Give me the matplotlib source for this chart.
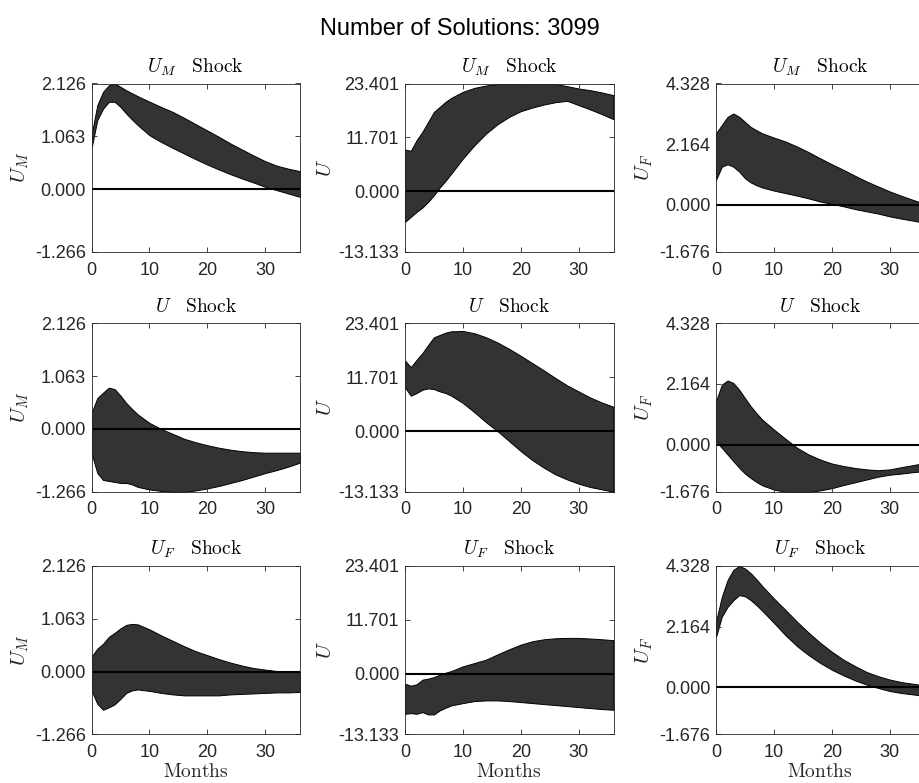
import numpy as np
import matplotlib
matplotlib.use('Agg')
import matplotlib.pyplot as plt

plt.rcParams['font.family'] = ['Liberation Sans', 'DejaVu Sans']
plt.rcParams['mathtext.fontset'] = 'cm'

# months on the horizontal axis
months = [0, 1, 2, 3, 4, 5, 6, 7, 8, 10, 12, 14, 16, 18, 20, 22, 24, 26, 28, 30, 32, 34, 36]

# row 1: U_M shock
um_um_hi = [1.09, 1.69, 1.96, 2.09, 2.126, 2.06, 1.99, 1.93, 1.87, 1.76, 1.655, 1.555, 1.434, 1.306, 1.179, 1.051, 0.917, 0.796, 0.675, 0.561, 0.47, 0.41, 0.36]
um_um_lo = [0.82, 1.39, 1.62, 1.757, 1.757, 1.655, 1.52, 1.40, 1.286, 1.085, 0.95, 0.83, 0.715, 0.601, 0.494, 0.393, 0.299, 0.212, 0.131, 0.044, -0.023, -0.09, -0.158]
um_u_hi = [9.08, 8.79, 11.1, 12.91, 15.08, 17.25, 18.34, 19.42, 20.29, 21.6, 22.46, 22.97, 23.26, 23.4, 23.4, 23.4, 23.4, 23.3, 22.82, 22.31, 21.95, 21.45, 20.87]
um_u_lo = [-6.62, -5.53, -4.45, -3.51, -2.28, -0.83, 0.83, 2.28, 3.87, 7.13, 10.02, 12.55, 14.58, 16.17, 17.4, 18.19, 18.84, 19.35, 19.64, 18.7, 17.76, 16.75, 15.66]
um_uf_hi = [2.55, 2.85, 3.14, 3.26, 3.14, 2.96, 2.78, 2.66, 2.55, 2.4, 2.26, 2.08, 1.88, 1.66, 1.45, 1.25, 1.04, 0.835, 0.657, 0.48, 0.326, 0.18, 0.04]
um_uf_lo = [0.89, 1.36, 1.45, 1.36, 1.19, 0.95, 0.8, 0.7, 0.62, 0.51, 0.42, 0.33, 0.23, 0.12, 0.04, -0.05, -0.15, -0.23, -0.31, -0.41, -0.49, -0.56, -0.64]

# row 2: U shock
u_um_hi = [0.32, 0.62, 0.73, 0.83, 0.8, 0.67, 0.52, 0.40, 0.29, 0.12, 0.0, -0.10, -0.20, -0.27, -0.33, -0.38, -0.42, -0.45, -0.47, -0.48, -0.48, -0.48, -0.48]
u_um_lo = [-0.49, -0.89, -1.03, -1.05, -1.07, -1.09, -1.09, -1.12, -1.17, -1.22, -1.25, -1.27, -1.27, -1.24, -1.2, -1.15, -1.09, -1.03, -0.96, -0.89, -0.83, -0.76, -0.68]
u_u_hi = [15.33, 13.89, 15.48, 16.92, 18.72, 20.37, 20.88, 21.38, 21.67, 21.74, 21.24, 20.37, 19.22, 17.85, 16.34, 14.75, 13.17, 11.51, 9.93, 8.6, 7.3, 6.2, 5.3]
u_u_lo = [9.49, 7.69, 8.27, 8.99, 9.28, 9.13, 8.63, 8.27, 7.69, 6.11, 4.09, 1.93, -0.02, -2.18, -4.34, -6.29, -7.94, -9.39, -10.47, -11.4, -12.12, -12.63, -13.13]
u_uf_hi = [1.55, 2.14, 2.29, 2.2, 1.96, 1.66, 1.37, 1.12, 0.89, 0.54, 0.21, -0.11, -0.35, -0.53, -0.67, -0.76, -0.83, -0.88, -0.91, -0.88, -0.80, -0.73, -0.65]
u_uf_lo = [0.12, -0.11, -0.35, -0.59, -0.82, -1.03, -1.19, -1.33, -1.45, -1.6, -1.68, -1.7, -1.69, -1.63, -1.55, -1.44, -1.34, -1.24, -1.14, -1.07, -1.03, -0.98, -0.94]

# row 3: U_F shock
uf_um_hi = [0.30, 0.46, 0.56, 0.70, 0.78, 0.87, 0.94, 0.96, 0.95, 0.85, 0.73, 0.62, 0.51, 0.41, 0.33, 0.25, 0.18, 0.12, 0.07, 0.04, 0.01, 0.0, -0.01]
uf_um_lo = [-0.38, -0.65, -0.77, -0.72, -0.66, -0.55, -0.43, -0.38, -0.36, -0.39, -0.43, -0.46, -0.48, -0.48, -0.48, -0.48, -0.46, -0.45, -0.44, -0.43, -0.42, -0.42, -0.41]
uf_u_hi = [-2.13, -2.56, -2.27, -1.26, -1.04, -0.68, -0.17, 0.26, 0.62, 1.64, 2.36, 3.09, 4.25, 5.34, 6.35, 7.08, 7.51, 7.73, 7.8, 7.8, 7.66, 7.51, 7.3]
uf_u_lo = [-8.66, -8.52, -8.66, -8.3, -8.8, -8.8, -7.93, -7.35, -6.84, -6.34, -5.9, -5.76, -5.76, -5.9, -6.12, -6.34, -6.56, -6.77, -6.99, -7.21, -7.43, -7.64, -7.79]
uf_uf_hi = [2.34, 3.23, 3.83, 4.19, 4.33, 4.24, 4.07, 3.85, 3.61, 3.17, 2.76, 2.34, 1.95, 1.59, 1.27, 0.99, 0.76, 0.55, 0.4, 0.28, 0.19, 0.13, 0.07]
uf_uf_lo = [1.80, 2.52, 2.87, 3.11, 3.29, 3.25, 3.11, 2.93, 2.73, 2.3, 1.86, 1.47, 1.15, 0.87, 0.63, 0.43, 0.25, 0.1, -0.02, -0.13, -0.2, -0.25, -0.3]

shock_titles = [r'$U_M\ \ \ \mathrm{Shock}$', r'$U\ \ \ \mathrm{Shock}$', r'$U_F\ \ \ \mathrm{Shock}$']
var_labels = [r'$U_M$', r'$U$', r'$U_F$']
y_ticks = [[-1.266, 0.0, 1.063, 2.126],
           [-13.133, 0.0, 11.701, 23.401],
           [-1.676, 0.0, 2.164, 4.328]]
x_ticks = [0, 10, 20, 30]

bands = [[(um_um_lo, um_um_hi), (um_u_lo, um_u_hi), (um_uf_lo, um_uf_hi)],
         [(u_um_lo, u_um_hi), (u_u_lo, u_u_hi), (u_uf_lo, u_uf_hi)],
         [(uf_um_lo, uf_um_hi), (uf_u_lo, uf_u_hi), (uf_uf_lo, uf_uf_hi)]]

fig = plt.figure(figsize=(9.19, 7.83), dpi=100)
W, H = 919.0, 783.0
lefts = [91.5, 405, 716]
tops = [83.5, 323.3, 566]
aw, ah = 208.5, 168.4

axcol = (0.15, 0.15, 0.15)
for r in range(3):
    for c in range(3):
        ax = fig.add_axes([lefts[c] / W, 1 - (tops[r] + ah) / H, aw / W, ah / H])
        lo, hi = bands[r][c]
        ax.fill_between(months, lo, hi, facecolor=(0.2, 0.2, 0.2), edgecolor='black', linewidth=0.7)
        ax.axhline(0, color='black', linewidth=1.5)
        ax.set_xlim(0, 36)
        ax.set_ylim(y_ticks[c][0], y_ticks[c][-1])
        ax.set_xticks(x_ticks)
        ax.set_yticks(y_ticks[c])
        ax.set_yticklabels(['%.3f' % v for v in y_ticks[c]])
        ax.tick_params(direction='in', top=True, right=True, length=3.5, width=0.6,
                       labelsize=13, colors=axcol, labelcolor=axcol)
        ax.tick_params(axis='x', pad=7)
        ax.tick_params(axis='y', pad=4)
        for s in ax.spines.values():
            s.set_color(axcol)
            s.set_linewidth(0.6)
        ax.set_title(shock_titles[r], fontsize=14, pad=8)
        ax.set_ylabel(var_labels[c], fontsize=15, color=axcol, labelpad=3)
        if r == 2:
            ax.set_xlabel(r'$\mathrm{Months}$', fontsize=14, color=axcol, labelpad=1)

fig.text(0.5, 1 - 29 / H, 'Number of Solutions: 3099', ha='center', va='center', fontsize=17)

fig.savefig('out.png', dpi=100)
